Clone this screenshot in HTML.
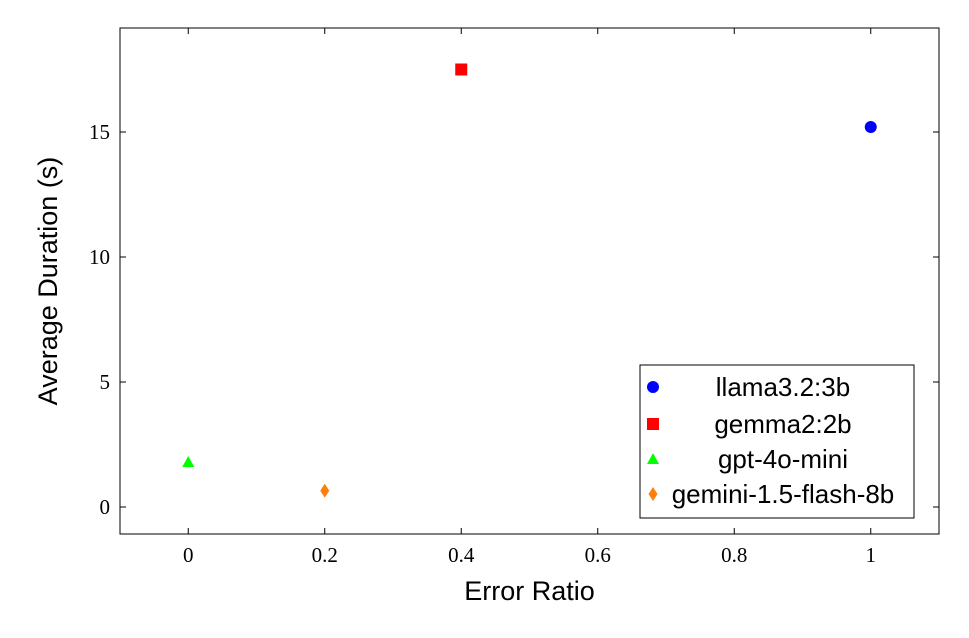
<!DOCTYPE html>
<html><head><meta charset="utf-8"><style>
body{margin:0;background:#fff;}
svg{display:block;}
.tick{font-family:"Liberation Serif",serif;font-size:21px;}
.lab{font-family:"Liberation Sans",sans-serif;font-size:27px;}
.leg{font-family:"Liberation Sans",sans-serif;font-size:26px;}
</style></head><body>
<svg id="chart" width="969" height="638" xmlns="http://www.w3.org/2000/svg"></svg>
<script>
const seriesNames=["llama3.2:3b","gemma2:2b","gpt-4o-mini","gemini-1.5-flash-8b"];
const errorRatio=[1,0.4,0,0.2];
const avgDuration=[15.2,17.5,1.8,0.65];
const xTicks=[0,0.2,0.4,0.6,0.8,1];
const xTickLabels=["0","0.2","0.4","0.6","0.8","1"];
const yTicks=[0,5,10,15];
const yTickLabels=["0","5","10","15"];
const colors=["#0000ff","#ff0000","#00ff00","#ff7f0e"];
const shapes=["circle","square","triangle","diamond"];

const L=120,R=939,T=28,B=534;
const xmin=-0.1,xmax=1.1,ymin=-1.08,ymax=19.16;
const xs=v=>L+(v-xmin)/(xmax-xmin)*(R-L);
const ys=v=>B-(v-ymin)/(ymax-ymin)*(B-T);
const svg=document.getElementById('chart');
const NS="http://www.w3.org/2000/svg";
function mk(tag,attrs,parent){const e=document.createElementNS(NS,tag);for(const k in attrs)e.setAttribute(k,attrs[k]);(parent||svg).appendChild(e);return e;}

let frame=mk('rect',{x:L,y:T,width:R-L,height:B-T,fill:'none',stroke:'#000','stroke-width':1});



xTicks.forEach((v,i)=>{
  const x=xs(v);
  let t1=mk('line',{x1:x,y1:B,x2:x,y2:B-6,stroke:'#000'});
  
  
  let t2=mk('line',{x1:x,y1:T,x2:x,y2:T+6,stroke:'#000'});
  
  
  let tx=mk('text',{x:x,y:B+28,'text-anchor':'middle',class:'tick'});
  tx.textContent=xTickLabels[i];
  
  
});
yTicks.forEach((v,i)=>{
  const y=ys(v);
  let t1=mk('line',{x1:L,y1:y,x2:L+6,y2:y,stroke:'#000'});
  
  
  let t2=mk('line',{x1:R,y1:y,x2:R-6,y2:y,stroke:'#000'});
  
  
  let tx=mk('text',{x:L-10,y:y+7,'text-anchor':'end',class:'tick'});
  tx.textContent=yTickLabels[i];
  
  
});

let xl=mk('text',{x:(L+R)/2,y:600,'text-anchor':'middle',class:'lab'});
xl.textContent="Error Ratio";


let yl=mk('text',{x:0,y:0,'text-anchor':'middle',class:'lab',transform:`translate(57,${(T+B)/2}) rotate(-90)`});
yl.textContent="Average Duration (s)";



function marker(shape,cx,cy,color){
  if(shape==='circle')return mk('circle',{cx:cx,cy:cy,r:6,fill:color});
  if(shape==='square')return mk('rect',{x:cx-6,y:cy-6,width:12,height:12,fill:color});
  if(shape==='triangle')return mk('polygon',{points:`${cx},${cy-6} ${cx+6},${cy+5} ${cx-6},${cy+5}`,fill:color});
  return mk('polygon',{points:`${cx},${cy-7} ${cx+4.5},${cy} ${cx},${cy+7} ${cx-4.5},${cy}`,fill:color});
}
seriesNames.forEach((n,i)=>{
  const m=marker(shapes[i],xs(errorRatio[i]),ys(avgDuration[i]),colors[i]);
  
  
});

const lg=mk('g',{});


mk('rect',{x:640,y:365,width:274,height:153,fill:'#fff',stroke:'#000'},lg);
const legY=[387,424,459,494];
seriesNames.forEach((n,i)=>{
  const m=marker(shapes[i],653,legY[i],colors[i]);lg.appendChild(m);
  
  
  const t=mk('text',{x:783,y:legY[i]+9,'text-anchor':'middle',class:'leg'},lg);
  t.textContent=n;
  
  
});
</script>
</body></html>
